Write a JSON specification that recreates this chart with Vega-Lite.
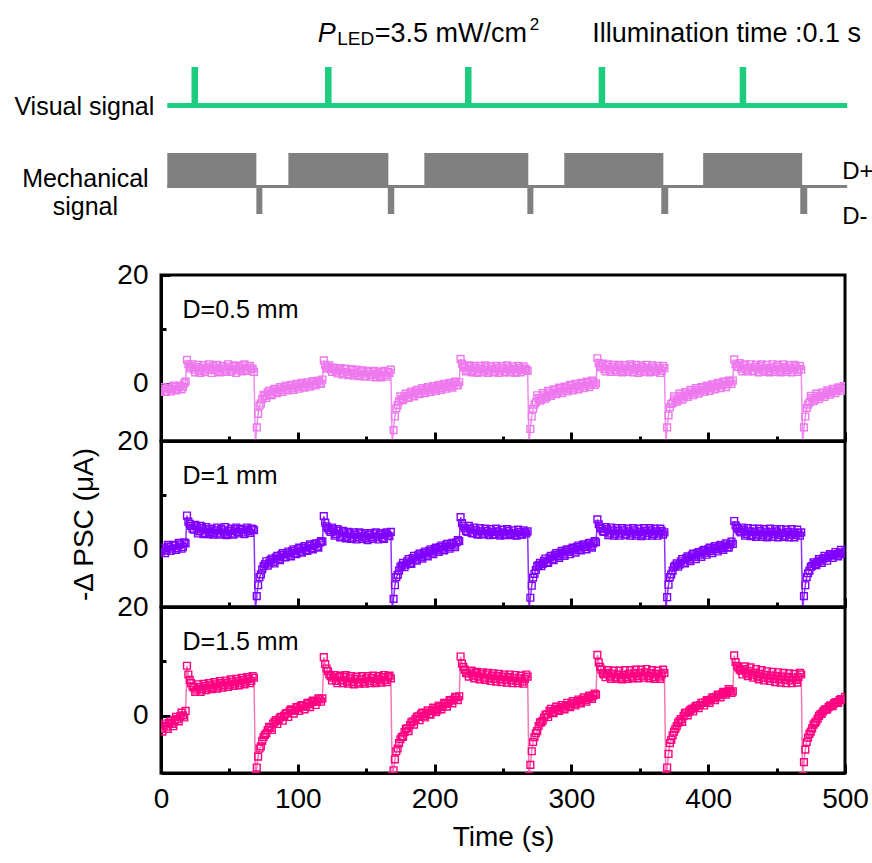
{
  "$schema": "https://vega.github.io/schema/vega-lite/v6.json",
  "background": "white",
  "padding": {"left": 14, "top": 0, "right": 0, "bottom": 0},
  "spacing": 0,
  "bounds": "flush",
  "config": {
    "font": "Liberation Sans",
    "view": {"stroke": "black", "strokeWidth": 3},
    "axis": {
      "domainColor": "black", "domainWidth": 3, "tickColor": "black", "tickWidth": 3,
      "labelFont": "Liberation Sans", "labelFontSize": 28, "labelColor": "black",
      "titleFont": "Liberation Sans", "titleFontSize": 28, "titleFontWeight": "normal", "titleColor": "black",
      "grid": false, "labelFlush": false, "labelOverlap": false
    }
  },
  "datasets": {
    "visual": [
      {"t0": 4.6, "t1": 501.6, "y0": 6.68, "y1": 6.88},
      {"t0": 22.3, "t1": 27.1, "y0": 6.68, "y1": 8.32},
      {"t0": 119.9, "t1": 124.7, "y0": 6.68, "y1": 8.32},
      {"t0": 222.2, "t1": 227.0, "y0": 6.68, "y1": 8.32},
      {"t0": 319.9, "t1": 324.7, "y0": 6.68, "y1": 8.32},
      {"t0": 423.0, "t1": 427.8, "y0": 6.68, "y1": 8.32}
    ],
    "mech": [
      {"t0": 4.6, "t1": 501.6, "y0": 3.48, "y1": 3.6},
      {"t0": 4.6, "t1": 69.7, "y0": 3.48, "y1": 4.88},
      {"t0": 93.1, "t1": 166.2, "y0": 3.48, "y1": 4.88},
      {"t0": 192.5, "t1": 268.5, "y0": 3.48, "y1": 4.88},
      {"t0": 294.8, "t1": 367.2, "y0": 3.48, "y1": 4.88},
      {"t0": 396.3, "t1": 468.7, "y0": 3.48, "y1": 4.88},
      {"t0": 69.7, "t1": 74.1, "y0": 2.44, "y1": 3.6},
      {"t0": 165.8, "t1": 170.5, "y0": 2.44, "y1": 3.6},
      {"t0": 267.8, "t1": 272.2, "y0": 2.44, "y1": 3.6},
      {"t0": 365.7, "t1": 370.8, "y0": 2.44, "y1": 3.6},
      {"t0": 467.3, "t1": 472.4, "y0": 2.44, "y1": 3.6}
    ],
    "psc": [
      {"t":0,"a":-1.3,"b":-0.3,"c":-2.4},{"t":2,"a":-0.9,"b":0.4,"c":-1.8},{"t":4,"a":-1.4,"b":-0.1,"c":-2.0},{"t":6,"a":-0.8,"b":0.6,"c":-1.3},{"t":8,"a":-1.0,"b":0.2,"c":-1.5},{"t":10,"a":-0.5,"b":0.8,"c":-0.8},{"t":12,"a":-0.9,"b":0.3,"c":-0.6},{"t":14,"a":-0.3,"b":1.0,"c":-0.1},{"t":16,"a":-0.6,"b":0.5,"c":0.1},{"t":18,"a":0.4,"b":1.2,"c":0.9},
      {"t":1,"a":-0.6,"b":0.3,"c":-2.9},{"t":3,"a":-1.5,"b":-0.6,"c":-1.4},{"t":5,"a":-0.7,"b":0.9,"c":-2.4},{"t":7,"a":-1.4,"b":-0.2,"c":-1.0},{"t":9,"a":-0.3,"b":0.9,"c":-1.9},{"t":11,"a":-1.2,"b":0.0,"c":-0.2},{"t":13,"a":-0.5,"b":1.3,"c":-1.0},{"t":15,"a":-1.0,"b":0.2,"c":0.6},{"t":17,"a":0.1,"b":1.4,"c":-0.3},
      {"t":19,"a":4.4,"b":6.3,"c":9.2},{"t":20,"a":3.6,"b":5.2,"c":7.6},{"t":22,"a":3.2,"b":4.4,"c":6.0},{"t":24,"a":2.6,"b":3.7,"c":5.2},{"t":26,"a":3.1,"b":4.3,"c":4.8},{"t":28,"a":2.4,"b":3.4,"c":5.3},{"t":30,"a":2.9,"b":4.0,"c":4.9},{"t":32,"a":2.2,"b":3.1,"c":5.5},{"t":34,"a":3.0,"b":3.8,"c":5.1},{"t":36,"a":2.5,"b":3.3,"c":5.6},{"t":38,"a":3.3,"b":2.8,"c":5.2},{"t":40,"a":2.6,"b":3.6,"c":5.8},{"t":42,"a":2.3,"b":3.0,"c":5.4},{"t":44,"a":3.0,"b":3.9,"c":6.0},{"t":46,"a":2.7,"b":3.2,"c":5.6},{"t":48,"a":2.2,"b":2.7,"c":6.1},{"t":50,"a":3.1,"b":3.5,"c":5.7},{"t":52,"a":2.6,"b":3.0,"c":6.3},{"t":54,"a":3.2,"b":3.8,"c":5.9},{"t":56,"a":2.5,"b":3.3,"c":6.4},{"t":58,"a":2.9,"b":3.9,"c":6.0},{"t":60,"a":3.4,"b":3.2,"c":6.6},{"t":62,"a":2.6,"b":3.7,"c":6.2},{"t":64,"a":3.0,"b":3.4,"c":6.8},{"t":66,"a":2.7,"b":3.9,"c":6.4},{"t":68,"a":2.2,"b":3.6,"c":7.0},
      {"t":21,"a":2.9,"b":4.8,"c":6.6},{"t":23,"a":3.6,"b":3.9,"c":5.4},{"t":25,"a":2.1,"b":4.6,"c":4.4},{"t":27,"a":3.5,"b":3.0,"c":5.8},{"t":29,"a":2.0,"b":4.4,"c":4.4},{"t":31,"a":3.4,"b":2.9,"c":5.9},{"t":33,"a":2.6,"b":4.2,"c":4.7},{"t":35,"a":3.6,"b":2.9,"c":6.0},{"t":37,"a":2.0,"b":3.9,"c":4.9},{"t":39,"a":2.9,"b":3.1,"c":6.2},{"t":41,"a":3.5,"b":4.1,"c":5.0},{"t":43,"a":2.1,"b":2.8,"c":6.4},{"t":45,"a":3.3,"b":3.6,"c":5.2},{"t":47,"a":2.4,"b":4.2,"c":6.5},{"t":49,"a":3.6,"b":2.9,"c":5.3},{"t":51,"a":2.2,"b":3.9,"c":6.7},{"t":53,"a":3.4,"b":2.8,"c":5.5},{"t":55,"a":2.0,"b":4.1,"c":6.8},{"t":57,"a":3.3,"b":3.0,"c":5.6},{"t":59,"a":2.3,"b":3.7,"c":7.0},{"t":61,"a":3.6,"b":2.9,"c":5.8},{"t":63,"a":2.4,"b":4.1,"c":7.1},{"t":65,"a":3.3,"b":3.1,"c":6.0},{"t":67,"a":2.8,"b":3.8,"c":7.3},
      {"t":69,"a":-11,"b":-11,"c":-11},{"t":70,"a":-8,"b":-8.5,"c":-9.5},{"t":71,"a":-5.5,"b":-6.5,"c":-7.5},{"t":72,"a":-4,"b":-5,"c":-6},{"t":74,"a":-2.8,"b":-3.6,"c":-4.6},{"t":76,"a":-2.2,"b":-2.6,"c":-3.5},{"t":78,"a":-1.6,"b":-2.9,"c":-2.6},{"t":80,"a":-1.9,"b":-1.9,"c":-2.2},{"t":82,"a":-1.2,"b":-2.2,"c":-1.4},{"t":84,"a":-1.5,"b":-1.4,"c":-0.8},{"t":86,"a":-0.9,"b":-1.7,"c":-0.7},{"t":88,"a":-1.2,"b":-0.9,"c":-0.2},{"t":90,"a":-0.6,"b":-1.3,"c":0.0},{"t":92,"a":-0.9,"b":-0.6,"c":0.5},{"t":94,"a":-0.4,"b":-0.9,"c":0.9},{"t":96,"a":-0.8,"b":-0.2,"c":1.0},{"t":98,"a":-0.3,"b":-0.6,"c":1.0},{"t":100,"a":-0.6,"b":0.1,"c":1.4},{"t":102,"a":-0.1,"b":-0.3,"c":1.8},{"t":104,"a":-0.5,"b":0.4,"c":1.8},{"t":106,"a":0.0,"b":0.0,"c":1.7},{"t":108,"a":-0.3,"b":0.7,"c":2.2},{"t":110,"a":0.3,"b":0.3,"c":2.5},{"t":112,"a":-0.1,"b":1.0,"c":2.6},{"t":114,"a":0.4,"b":0.6,"c":2.6},{"t":116,"a":0.1,"b":1.3,"c":3.0},{"t":118,"a":0.8,"b":1.5,"c":3.2},
      {"t":73,"a":-3.6,"b":-4.5,"c":-5.6},{"t":75,"a":-2.0,"b":-3.0,"c":-3.9},{"t":77,"a":-2.6,"b":-2.1,"c":-3.2},{"t":79,"a":-1.3,"b":-2.5,"c":-2.0},{"t":81,"a":-2.1,"b":-1.6,"c":-2.6},{"t":83,"a":-0.9,"b":-2.5,"c":-1.1},{"t":85,"a":-1.7,"b":-1.1,"c":-1.5},{"t":87,"a":-0.6,"b":-1.9,"c":-0.3},{"t":89,"a":-1.5,"b":-0.6,"c":-0.9},{"t":91,"a":-0.3,"b":-1.4,"c":0.4},{"t":93,"a":-1.2,"b":-0.3,"c":-0.2},{"t":95,"a":-0.2,"b":-1.2,"c":1.2},{"t":97,"a":-1.1,"b":0.1,"c":0.4},{"t":99,"a":0.0,"b":-0.8,"c":1.6},{"t":101,"a":-0.9,"b":0.4,"c":0.9},{"t":103,"a":0.2,"b":-0.5,"c":2.0},{"t":105,"a":-0.7,"b":0.7,"c":1.2},{"t":107,"a":0.3,"b":-0.2,"c":2.4},{"t":109,"a":-0.5,"b":1.0,"c":1.6},{"t":111,"a":0.5,"b":0.1,"c":2.8},{"t":113,"a":-0.3,"b":1.2,"c":2.0},{"t":115,"a":0.6,"b":0.4,"c":3.2},{"t":117,"a":0.0,"b":1.6,"c":2.6},
      {"t":119,"a":4.3,"b":6.2,"c":10.8},{"t":120,"a":3.5,"b":5.0,"c":9.5},{"t":122,"a":3.1,"b":4.0,"c":8.2},{"t":124,"a":2.7,"b":3.3,"c":7.3},{"t":126,"a":3.0,"b":3.8,"c":7.0},{"t":128,"a":2.3,"b":2.9,"c":6.4},{"t":130,"a":2.6,"b":3.5,"c":7.1},{"t":132,"a":2.0,"b":2.6,"c":6.5},{"t":134,"a":2.7,"b":3.2,"c":7.2},{"t":136,"a":2.2,"b":2.4,"c":6.3},{"t":138,"a":1.8,"b":3.0,"c":6.9},{"t":140,"a":2.5,"b":2.2,"c":6.2},{"t":142,"a":2.0,"b":2.8,"c":6.8},{"t":144,"a":1.6,"b":2.3,"c":6.1},{"t":146,"a":2.3,"b":3.0,"c":6.7},{"t":148,"a":1.9,"b":2.5,"c":6.2},{"t":150,"a":1.5,"b":2.1,"c":6.9},{"t":152,"a":2.2,"b":2.8,"c":6.4},{"t":154,"a":1.7,"b":2.3,"c":7.0},{"t":156,"a":2.4,"b":3.0,"c":6.3},{"t":158,"a":1.8,"b":2.4,"c":6.8},{"t":160,"a":1.4,"b":2.8,"c":6.5},{"t":162,"a":2.1,"b":2.2,"c":7.1},{"t":164,"a":1.6,"b":2.9,"c":6.6},{"t":166,"a":2.2,"b":2.6,"c":7.2},{"t":168,"a":2.6,"b":3.3,"c":6.9},
      {"t":121,"a":2.8,"b":4.3,"c":8.7},{"t":123,"a":3.4,"b":3.6,"c":7.6},{"t":125,"a":2.2,"b":4.1,"c":6.5},{"t":127,"a":2.9,"b":2.6,"c":7.5},{"t":129,"a":1.9,"b":3.8,"c":6.0},{"t":131,"a":2.9,"b":2.3,"c":7.4},{"t":133,"a":1.7,"b":3.5,"c":6.0},{"t":135,"a":2.8,"b":2.1,"c":7.5},{"t":137,"a":1.6,"b":3.3,"c":5.9},{"t":139,"a":2.7,"b":2.0,"c":7.3},{"t":141,"a":1.5,"b":3.2,"c":5.8},{"t":143,"a":2.6,"b":1.9,"c":7.2},{"t":145,"a":1.4,"b":3.2,"c":5.9},{"t":147,"a":2.5,"b":2.0,"c":7.3},{"t":149,"a":1.3,"b":3.1,"c":5.9},{"t":151,"a":2.4,"b":1.8,"c":7.3},{"t":153,"a":1.3,"b":3.1,"c":6.0},{"t":155,"a":2.3,"b":2.0,"c":7.4},{"t":157,"a":1.2,"b":3.2,"c":6.0},{"t":159,"a":2.2,"b":1.9,"c":7.3},{"t":161,"a":1.2,"b":3.1,"c":6.1},{"t":163,"a":2.4,"b":2.0,"c":7.5},{"t":165,"a":1.3,"b":3.2,"c":6.2},{"t":167,"a":2.0,"b":2.5,"c":7.4},
      {"t":169,"a":-11,"b":-11,"c":-11},{"t":170,"a":-8.5,"b":-9,"c":-10},{"t":171,"a":-6,"b":-6.5,"c":-8},{"t":172,"a":-4.5,"b":-5,"c":-6.5},{"t":174,"a":-3.2,"b":-3.8,"c":-5},{"t":176,"a":-2.8,"b":-2.9,"c":-3.9},{"t":178,"a":-2.2,"b":-3.2,"c":-3.0},{"t":180,"a":-2.5,"b":-2.1,"c":-2.3},{"t":182,"a":-1.7,"b":-2.4,"c":-1.7},{"t":184,"a":-2.0,"b":-1.5,"c":-1.0},{"t":186,"a":-1.4,"b":-1.8,"c":-0.6},{"t":188,"a":-1.7,"b":-1.0,"c":-0.1},{"t":190,"a":-1.1,"b":-1.3,"c":0.3},{"t":192,"a":-1.4,"b":-0.6,"c":0.0},{"t":194,"a":-0.9,"b":-0.9,"c":0.6},{"t":196,"a":-1.2,"b":-0.2,"c":0.3},{"t":198,"a":-0.7,"b":-0.5,"c":0.9},{"t":200,"a":-1.0,"b":0.2,"c":1.2},{"t":202,"a":-0.5,"b":-0.1,"c":1.0},{"t":204,"a":-0.8,"b":0.5,"c":1.6},{"t":206,"a":-0.3,"b":0.2,"c":1.8},{"t":208,"a":-0.6,"b":0.8,"c":2.2},{"t":210,"a":-0.1,"b":0.5,"c":2.4},{"t":212,"a":-0.4,"b":1.1,"c":2.8},{"t":214,"a":0.1,"b":0.8,"c":3.0},{"t":216,"a":-0.2,"b":1.4,"c":3.4},{"t":218,"a":0.3,"b":1.6,"c":3.6},
      {"t":173,"a":-3.9,"b":-4.6,"c":-6.0},{"t":175,"a":-2.3,"b":-3.1,"c":-4.3},{"t":177,"a":-3.0,"b":-2.4,"c":-3.8},{"t":179,"a":-1.8,"b":-2.7,"c":-2.4},{"t":181,"a":-2.6,"b":-1.7,"c":-2.8},{"t":183,"a":-1.4,"b":-2.6,"c":-1.2},{"t":185,"a":-2.3,"b":-1.1,"c":-1.6},{"t":187,"a":-1.1,"b":-2.0,"c":-0.2},{"t":189,"a":-1.9,"b":-0.7,"c":-0.8},{"t":191,"a":-0.8,"b":-1.6,"c":0.6},{"t":193,"a":-1.7,"b":-0.3,"c":-0.3},{"t":195,"a":-0.6,"b":-1.2,"c":1.0},{"t":197,"a":-1.5,"b":0.1,"c":0.2},{"t":199,"a":-0.4,"b":-0.8,"c":1.5},{"t":201,"a":-1.3,"b":0.4,"c":0.7},{"t":203,"a":-0.2,"b":-0.4,"c":1.9},{"t":205,"a":-1.1,"b":0.8,"c":1.2},{"t":207,"a":0.0,"b":-0.1,"c":2.4},{"t":209,"a":-0.9,"b":1.1,"c":1.7},{"t":211,"a":0.2,"b":0.2,"c":2.9},{"t":213,"a":-0.7,"b":1.3,"c":2.3},{"t":215,"a":0.4,"b":0.5,"c":3.5},{"t":217,"a":-0.3,"b":1.8,"c":2.9},
      {"t":219,"a":4.6,"b":6.0,"c":10.9},{"t":220,"a":3.7,"b":4.9,"c":9.6},{"t":222,"a":3.0,"b":4.0,"c":8.5},{"t":224,"a":2.6,"b":3.3,"c":7.8},{"t":226,"a":3.2,"b":3.9,"c":8.2},{"t":228,"a":2.4,"b":3.0,"c":7.4},{"t":230,"a":2.9,"b":3.6,"c":7.9},{"t":232,"a":2.2,"b":2.8,"c":7.2},{"t":234,"a":2.8,"b":3.4,"c":7.7},{"t":236,"a":2.5,"b":2.9,"c":7.0},{"t":238,"a":3.1,"b":3.5,"c":7.6},{"t":240,"a":2.3,"b":2.7,"c":6.9},{"t":242,"a":2.7,"b":3.3,"c":7.4},{"t":244,"a":2.1,"b":2.8,"c":6.8},{"t":246,"a":2.9,"b":3.4,"c":7.3},{"t":248,"a":2.4,"b":2.6,"c":6.7},{"t":250,"a":2.8,"b":3.2,"c":7.2},{"t":252,"a":2.2,"b":2.8,"c":6.6},{"t":254,"a":3.0,"b":3.5,"c":7.1},{"t":256,"a":2.5,"b":2.7,"c":6.5},{"t":258,"a":2.7,"b":3.1,"c":7.0},{"t":260,"a":2.2,"b":2.6,"c":6.4},{"t":262,"a":2.9,"b":3.3,"c":6.9},{"t":264,"a":2.5,"b":2.8,"c":6.3},{"t":266,"a":2.8,"b":3.2,"c":6.8},{"t":268,"a":2.4,"b":3.4,"c":7.2},
      {"t":221,"a":3.2,"b":4.4,"c":9.0},{"t":223,"a":2.3,"b":3.5,"c":7.9},{"t":225,"a":3.4,"b":4.4,"c":7.2},{"t":227,"a":2.1,"b":3.1,"c":8.3},{"t":229,"a":3.3,"b":4.1,"c":6.9},{"t":231,"a":2.0,"b":2.9,"c":8.1},{"t":233,"a":3.3,"b":4.0,"c":6.7},{"t":235,"a":2.1,"b":2.9,"c":8.0},{"t":237,"a":3.4,"b":3.9,"c":6.6},{"t":239,"a":2.0,"b":3.0,"c":7.9},{"t":241,"a":3.2,"b":3.8,"c":6.4},{"t":243,"a":2.2,"b":2.8,"c":7.8},{"t":245,"a":3.3,"b":3.9,"c":6.3},{"t":247,"a":2.0,"b":2.9,"c":7.7},{"t":249,"a":3.2,"b":3.7,"c":6.2},{"t":251,"a":2.1,"b":2.7,"c":7.6},{"t":253,"a":3.4,"b":3.8,"c":6.1},{"t":255,"a":2.1,"b":2.9,"c":7.6},{"t":257,"a":3.2,"b":3.6,"c":6.0},{"t":259,"a":2.0,"b":2.7,"c":7.5},{"t":261,"a":3.3,"b":3.7,"c":6.0},{"t":263,"a":2.1,"b":2.8,"c":7.4},{"t":265,"a":3.2,"b":3.6,"c":5.9},{"t":267,"a":2.6,"b":3.0,"c":7.6},
      {"t":269,"a":-11,"b":-11,"c":-11},{"t":270,"a":-8.3,"b":-8.8,"c":-9},{"t":271,"a":-6,"b":-6.6,"c":-6.5},{"t":272,"a":-4.6,"b":-5.1,"c":-4.8},{"t":274,"a":-3.4,"b":-3.7,"c":-3.2},{"t":276,"a":-2.6,"b":-2.8,"c":-1.9},{"t":278,"a":-2.9,"b":-3.0,"c":-1.2},{"t":280,"a":-2.1,"b":-2.0,"c":-0.3},{"t":282,"a":-2.4,"b":-2.3,"c":0.3},{"t":284,"a":-1.6,"b":-1.4,"c":0.9},{"t":286,"a":-1.9,"b":-1.7,"c":0.7},{"t":288,"a":-1.2,"b":-0.9,"c":1.3},{"t":290,"a":-1.6,"b":-1.2,"c":1.1},{"t":292,"a":-0.9,"b":-0.5,"c":1.6},{"t":294,"a":-1.3,"b":-0.8,"c":1.5},{"t":296,"a":-0.7,"b":-0.1,"c":2.0},{"t":298,"a":-1.0,"b":-0.4,"c":1.8},{"t":300,"a":-0.4,"b":0.2,"c":2.3},{"t":302,"a":-0.8,"b":-0.1,"c":2.2},{"t":304,"a":-0.3,"b":0.5,"c":2.7},{"t":306,"a":-0.6,"b":0.2,"c":2.6},{"t":308,"a":0.0,"b":0.8,"c":3.0},{"t":310,"a":-0.4,"b":0.5,"c":2.9},{"t":312,"a":0.2,"b":1.0,"c":3.3},{"t":314,"a":-0.2,"b":0.7,"c":3.4},{"t":316,"a":0.3,"b":1.2,"c":3.7},{"t":318,"a":0.1,"b":1.4,"c":3.9},
      {"t":273,"a":-3.8,"b":-4.4,"c":-3.9},{"t":275,"a":-2.1,"b":-3.0,"c":-2.8},{"t":277,"a":-3.1,"b":-2.4,"c":-1.2},{"t":279,"a":-1.7,"b":-2.6,"c":-0.9},{"t":281,"a":-2.7,"b":-1.6,"c":0.2},{"t":283,"a":-1.3,"b":-2.4,"c":-0.2},{"t":285,"a":-2.2,"b":-1.1,"c":1.3},{"t":287,"a":-1.0,"b":-1.9,"c":0.5},{"t":289,"a":-1.9,"b":-0.6,"c":1.7},{"t":291,"a":-0.7,"b":-1.5,"c":0.9},{"t":293,"a":-1.7,"b":-0.2,"c":2.0},{"t":295,"a":-0.5,"b":-1.1,"c":1.2},{"t":297,"a":-1.4,"b":0.1,"c":2.4},{"t":299,"a":-0.2,"b":-0.8,"c":1.6},{"t":301,"a":-1.2,"b":0.4,"c":2.7},{"t":303,"a":0.0,"b":-0.5,"c":1.9},{"t":305,"a":-1.0,"b":0.8,"c":3.0},{"t":307,"a":0.2,"b":-0.1,"c":2.3},{"t":309,"a":-0.8,"b":1.0,"c":3.4},{"t":311,"a":0.4,"b":0.1,"c":2.6},{"t":313,"a":-0.6,"b":1.3,"c":3.7},{"t":315,"a":0.6,"b":0.4,"c":3.1},{"t":317,"a":-0.2,"b":1.6,"c":4.1},
      {"t":319,"a":4.7,"b":5.6,"c":11.2},{"t":320,"a":3.8,"b":4.7,"c":9.8},{"t":322,"a":3.3,"b":3.9,"c":8.5},{"t":324,"a":2.7,"b":3.3,"c":7.6},{"t":326,"a":3.4,"b":3.8,"c":7.9},{"t":328,"a":2.6,"b":3.0,"c":7.2},{"t":330,"a":3.1,"b":3.6,"c":7.7},{"t":332,"a":2.5,"b":2.9,"c":7.1},{"t":334,"a":3.2,"b":3.5,"c":7.6},{"t":336,"a":2.8,"b":3.0,"c":7.0},{"t":338,"a":2.4,"b":3.6,"c":7.5},{"t":340,"a":3.0,"b":2.8,"c":7.1},{"t":342,"a":2.6,"b":3.4,"c":7.7},{"t":344,"a":3.3,"b":3.0,"c":7.2},{"t":346,"a":2.5,"b":3.6,"c":7.8},{"t":348,"a":2.9,"b":2.9,"c":7.3},{"t":350,"a":2.3,"b":3.3,"c":7.9},{"t":352,"a":3.1,"b":2.8,"c":7.4},{"t":354,"a":2.6,"b":3.5,"c":8.0},{"t":356,"a":2.9,"b":3.1,"c":7.3},{"t":358,"a":2.4,"b":3.6,"c":7.8},{"t":360,"a":3.0,"b":2.9,"c":7.1},{"t":362,"a":2.5,"b":3.4,"c":7.7},{"t":364,"a":2.8,"b":3.0,"c":7.2},{"t":366,"a":2.4,"b":3.5,"c":7.6},{"t":368,"a":2.9,"b":3.2,"c":7.9},
      {"t":321,"a":3.0,"b":4.1,"c":9.0},{"t":323,"a":3.7,"b":3.4,"c":7.8},{"t":325,"a":2.3,"b":4.2,"c":7.1},{"t":327,"a":3.6,"b":2.7,"c":8.4},{"t":329,"a":2.2,"b":4.1,"c":6.8},{"t":331,"a":3.5,"b":2.6,"c":8.3},{"t":333,"a":2.2,"b":4.0,"c":6.8},{"t":335,"a":3.5,"b":2.6,"c":8.3},{"t":337,"a":2.1,"b":4.0,"c":6.7},{"t":339,"a":3.4,"b":2.7,"c":8.4},{"t":341,"a":2.2,"b":3.9,"c":6.8},{"t":343,"a":3.6,"b":2.6,"c":8.4},{"t":345,"a":2.1,"b":4.0,"c":6.9},{"t":347,"a":3.5,"b":2.6,"c":8.5},{"t":349,"a":2.0,"b":3.9,"c":6.9},{"t":351,"a":3.4,"b":2.5,"c":8.5},{"t":353,"a":2.2,"b":4.0,"c":7.0},{"t":355,"a":3.5,"b":2.6,"c":8.6},{"t":357,"a":2.1,"b":4.0,"c":6.9},{"t":359,"a":3.4,"b":2.6,"c":8.4},{"t":361,"a":2.2,"b":3.9,"c":6.8},{"t":363,"a":3.3,"b":2.6,"c":8.3},{"t":365,"a":2.0,"b":3.9,"c":6.8},{"t":367,"a":3.3,"b":2.8,"c":8.5},
      {"t":369,"a":-11,"b":-11,"c":-11},{"t":370,"a":-8,"b":-8.7,"c":-9.5},{"t":371,"a":-5.8,"b":-6.4,"c":-7},{"t":372,"a":-4.3,"b":-5.0,"c":-5},{"t":374,"a":-3.5,"b":-3.8,"c":-3.6},{"t":376,"a":-2.7,"b":-2.9,"c":-2.4},{"t":378,"a":-3.0,"b":-3.1,"c":-1.3},{"t":380,"a":-2.2,"b":-2.1,"c":-0.6},{"t":382,"a":-2.5,"b":-2.4,"c":0.0},{"t":384,"a":-1.8,"b":-1.5,"c":0.6},{"t":386,"a":-2.0,"b":-1.8,"c":0.8},{"t":388,"a":-1.4,"b":-1.0,"c":1.3},{"t":390,"a":-1.7,"b":-1.3,"c":1.5},{"t":392,"a":-1.1,"b":-0.6,"c":1.9},{"t":394,"a":-1.4,"b":-0.9,"c":2.0},{"t":396,"a":-0.8,"b":-0.2,"c":2.4},{"t":398,"a":-1.1,"b":-0.5,"c":2.5},{"t":400,"a":-0.5,"b":0.1,"c":2.8},{"t":402,"a":-0.8,"b":-0.2,"c":3.0},{"t":404,"a":-0.3,"b":0.4,"c":3.3},{"t":406,"a":-0.6,"b":0.1,"c":3.5},{"t":408,"a":0.0,"b":0.6,"c":3.8},{"t":410,"a":-0.3,"b":0.3,"c":4.0},{"t":412,"a":0.3,"b":0.8,"c":4.2},{"t":414,"a":-0.1,"b":0.5,"c":4.4},{"t":416,"a":0.4,"b":1.0,"c":4.6},{"t":418,"a":0.6,"b":1.1,"c":4.5},
      {"t":373,"a":-3.7,"b":-4.5,"c":-4.4},{"t":375,"a":-2.3,"b":-3.1,"c":-2.9},{"t":377,"a":-3.3,"b":-2.5,"c":-1.9},{"t":379,"a":-1.8,"b":-2.7,"c":-0.9},{"t":381,"a":-2.9,"b":-1.7,"c":-1.1},{"t":383,"a":-1.5,"b":-2.5,"c":0.5},{"t":385,"a":-2.4,"b":-1.2,"c":0.1},{"t":387,"a":-1.1,"b":-2.1,"c":1.1},{"t":389,"a":-2.1,"b":-0.7,"c":0.8},{"t":391,"a":-0.8,"b":-1.7,"c":1.8},{"t":393,"a":-1.8,"b":-0.4,"c":1.4},{"t":395,"a":-0.6,"b":-1.3,"c":2.4},{"t":397,"a":-1.5,"b":0.0,"c":1.9},{"t":399,"a":-0.3,"b":-0.9,"c":2.9},{"t":401,"a":-1.3,"b":0.4,"c":2.4},{"t":403,"a":-0.1,"b":-0.6,"c":3.4},{"t":405,"a":-1.0,"b":0.7,"c":2.9},{"t":407,"a":0.2,"b":-0.3,"c":3.9},{"t":409,"a":-0.8,"b":0.9,"c":3.4},{"t":411,"a":0.4,"b":0.0,"c":4.4},{"t":413,"a":-0.6,"b":1.2,"c":3.9},{"t":415,"a":0.6,"b":0.4,"c":4.9},{"t":417,"a":0.0,"b":1.5,"c":4.2},
      {"t":419,"a":4.5,"b":5.3,"c":11.1},{"t":420,"a":3.6,"b":4.5,"c":9.9},{"t":422,"a":3.2,"b":3.8,"c":8.9},{"t":424,"a":2.8,"b":3.2,"c":8.3},{"t":426,"a":3.4,"b":3.7,"c":8.6},{"t":428,"a":2.6,"b":2.9,"c":7.8},{"t":430,"a":3.0,"b":3.4,"c":8.2},{"t":432,"a":2.4,"b":2.7,"c":7.5},{"t":434,"a":3.1,"b":3.3,"c":7.9},{"t":436,"a":2.7,"b":2.8,"c":7.2},{"t":438,"a":3.3,"b":3.5,"c":7.7},{"t":440,"a":2.5,"b":2.7,"c":7.0},{"t":442,"a":2.9,"b":3.2,"c":7.5},{"t":444,"a":2.3,"b":2.6,"c":6.9},{"t":446,"a":3.0,"b":3.3,"c":7.4},{"t":448,"a":2.6,"b":2.9,"c":6.8},{"t":450,"a":3.2,"b":3.4,"c":7.3},{"t":452,"a":2.4,"b":2.7,"c":6.7},{"t":454,"a":2.8,"b":3.1,"c":7.2},{"t":456,"a":3.1,"b":2.6,"c":6.6},{"t":458,"a":2.5,"b":3.3,"c":7.1},{"t":460,"a":2.9,"b":2.8,"c":6.5},{"t":462,"a":2.6,"b":3.2,"c":7.0},{"t":464,"a":3.2,"b":2.7,"c":6.6},{"t":466,"a":2.7,"b":3.1,"c":7.1},{"t":468,"a":2.6,"b":3.2,"c":7.6},
      {"t":421,"a":3.1,"b":4.1,"c":9.2},{"t":423,"a":3.8,"b":3.4,"c":8.5},{"t":425,"a":2.3,"b":4.1,"c":7.6},{"t":427,"a":3.6,"b":2.6,"c":9.1},{"t":429,"a":2.3,"b":4.0,"c":7.3},{"t":431,"a":3.6,"b":2.5,"c":8.9},{"t":433,"a":2.3,"b":3.9,"c":7.0},{"t":435,"a":3.5,"b":2.4,"c":8.6},{"t":437,"a":2.1,"b":3.9,"c":6.7},{"t":439,"a":3.6,"b":2.4,"c":8.4},{"t":441,"a":2.2,"b":3.8,"c":6.5},{"t":443,"a":3.5,"b":2.3,"c":8.2},{"t":445,"a":2.1,"b":3.9,"c":6.4},{"t":447,"a":3.6,"b":2.4,"c":8.1},{"t":449,"a":2.2,"b":3.8,"c":6.2},{"t":451,"a":3.5,"b":2.3,"c":8.0},{"t":453,"a":2.1,"b":3.8,"c":6.1},{"t":455,"a":3.6,"b":2.4,"c":7.9},{"t":457,"a":2.2,"b":3.7,"c":6.0},{"t":459,"a":3.4,"b":2.3,"c":7.8},{"t":461,"a":2.1,"b":3.8,"c":6.0},{"t":463,"a":3.5,"b":2.3,"c":7.7},{"t":465,"a":2.2,"b":3.7,"c":6.1},{"t":467,"a":3.3,"b":2.6,"c":7.9},
      {"t":469,"a":-11,"b":-11,"c":-11},{"t":470,"a":-8,"b":-8.5,"c":-8.5},{"t":471,"a":-6,"b":-6.5,"c":-6.2},{"t":472,"a":-4.4,"b":-5,"c":-4.8},{"t":474,"a":-3.4,"b":-3.8,"c":-3.3},{"t":476,"a":-2.6,"b":-3.0,"c":-2.3},{"t":478,"a":-2.9,"b":-2.6,"c":-1.3},{"t":480,"a":-2.2,"b":-2.2,"c":-0.5},{"t":482,"a":-2.4,"b":-2.0,"c":0.3},{"t":484,"a":-1.7,"b":-1.6,"c":0.8},{"t":486,"a":-2.0,"b":-1.5,"c":1.2},{"t":488,"a":-1.4,"b":-1.2,"c":1.6},{"t":490,"a":-1.6,"b":-1.0,"c":1.9},{"t":492,"a":-1.0,"b":-0.8,"c":2.3},{"t":494,"a":-1.3,"b":-0.9,"c":2.5},{"t":496,"a":-0.7,"b":-0.5,"c":2.9},{"t":498,"a":-0.9,"b":-0.6,"c":3.1},{"t":500,"a":-0.6,"b":-0.3,"c":3.5},
      {"t":473,"a":-3.8,"b":-4.3,"c":-4.0},{"t":475,"a":-2.2,"b":-3.1,"c":-2.9},{"t":477,"a":-3.2,"b":-2.3,"c":-1.6},{"t":479,"a":-1.8,"b":-2.8,"c":-1.0},{"t":481,"a":-2.8,"b":-1.7,"c":0.0},{"t":483,"a":-1.6,"b":-2.4,"c":0.4},{"t":485,"a":-2.4,"b":-1.1,"c":1.1},{"t":487,"a":-1.2,"b":-2.0,"c":1.2},{"t":489,"a":-2.0,"b":-0.8,"c":1.9},{"t":491,"a":-0.9,"b":-1.5,"c":1.8},{"t":493,"a":-1.7,"b":-0.4,"c":2.5},{"t":495,"a":-0.7,"b":-1.2,"c":2.4},{"t":497,"a":-1.3,"b":0.0,"c":3.1},{"t":499,"a":-0.4,"b":-0.8,"c":3.0}
    ]
  },
  "vconcat": [
    {
      "width": 684, "height": 275,
      "view": {"stroke": null},
      "encoding": {
        "x": {"field": "t0", "type": "quantitative", "scale": {"domain": [0, 500], "nice": false, "zero": false}, "axis": null},
        "y": {"field": "y0", "type": "quantitative", "scale": {"domain": [0, 11], "nice": false, "zero": false}, "axis": null}
      },
      "layer": [
        {"data": {"name": "visual"}, "mark": {"type": "rect", "color": "#1ECC80"}, "encoding": {"x2": {"field": "t1"}, "y2": {"field": "y1"}}},
        {"data": {"name": "mech"}, "mark": {"type": "rect", "color": "#808080"}, "encoding": {"x2": {"field": "t1"}, "y2": {"field": "y1"}}},
        {"data": {"values": [{"t0": 156.2, "y0": 9.66, "s": "=3.5 mW/cm"}, {"t0": 315.3, "y0": 9.66, "s": "Illumination time :0.1 s"}]},
         "mark": {"type": "text", "align": "left", "fontSize": 27, "color": "black"}, "encoding": {"text": {"field": "s"}}},
        {"data": {"values": [{"t0": 114.5, "y0": 9.66, "s": "P"}]},
         "mark": {"type": "text", "align": "left", "fontSize": 27, "fontStyle": "italic", "color": "black"}, "encoding": {"text": {"field": "s"}}},
        {"data": {"values": [{"t0": 128.8, "y0": 9.44, "s": "LED"}]},
         "mark": {"type": "text", "align": "left", "fontSize": 19, "color": "black"}, "encoding": {"text": {"field": "s"}}},
        {"data": {"values": [{"t0": 269.5, "y0": 10.02, "s": "2"}]},
         "mark": {"type": "text", "align": "left", "fontSize": 17, "color": "black"}, "encoding": {"text": {"field": "s"}}},
        {"data": {"values": [{"t0": -4.9, "y0": 6.72, "s": "Visual signal"}]},
         "mark": {"type": "text", "align": "right", "fontSize": 25, "color": "black"}, "encoding": {"text": {"field": "s"}}},
        {"data": {"values": [{"t0": -55.3, "y0": 3.84, "s": "Mechanical"}, {"t0": -55.3, "y0": 2.72, "s": "signal"}]},
         "mark": {"type": "text", "align": "center", "fontSize": 25, "color": "black"}, "encoding": {"text": {"field": "s"}}},
        {"data": {"values": [{"t0": 498, "y0": 4.12, "s": "D+"}, {"t0": 498, "y0": 2.32, "s": "D-"}]},
         "mark": {"type": "text", "align": "left", "fontSize": 24, "color": "black"}, "encoding": {"text": {"field": "s"}}}
      ]
    },
    {
      "width": 684, "height": 166,
      "data": {"name": "psc"},
      "encoding": {
        "x": {"field": "t", "type": "quantitative", "scale": {"domain": [0, 500], "nice": false, "zero": false},
              "axis": {"values": [0,50,100,150,200,250,300,350,400,450,500], "labels": false, "title": null,
                       "tickSize": {"condition": {"test": "datum.value % 100 === 0", "value": -9}, "value": -5}}},
        "y": {"field": "a", "type": "quantitative", "scale": {"domain": [-10.5, 20], "nice": false, "zero": false},
              "axis": {"values": [0, 10, 20], "labelExpr": "datum.value === 10 ? '' : datum.label", "labelPadding": 22, "title": null,
                       "tickSize": {"condition": {"test": "datum.value % 20 === 0", "value": -9}, "value": -5}}}
      },
      "layer": [
        {"mark": {"type": "line", "color": "#F08CF0", "strokeWidth": 1.5, "clip": true}},
        {"mark": {"type": "point", "shape": "square", "filled": false, "color": "#EE78EE", "size": 46, "strokeWidth": 1.4, "opacity": 1, "clip": true}},
        {"data": {"values": [{"t": 15.7, "a": 13.5, "s": "D=0.5 mm"}]}, "mark": {"type": "text", "align": "left", "fontSize": 25, "color": "black"}, "encoding": {"text": {"field": "s"}}}
      ]
    },
    {
      "width": 684, "height": 166,
      "data": {"name": "psc"},
      "encoding": {
        "x": {"field": "t", "type": "quantitative", "scale": {"domain": [0, 500], "nice": false, "zero": false},
              "axis": {"values": [0,50,100,150,200,250,300,350,400,450,500], "labels": false, "title": null,
                       "tickSize": {"condition": {"test": "datum.value % 100 === 0", "value": -9}, "value": -5}}},
        "y": {"field": "b", "type": "quantitative", "scale": {"domain": [-10.5, 20], "nice": false, "zero": false},
              "axis": {"values": [0, 10, 20], "labelExpr": "datum.value === 10 ? '' : datum.label", "labelPadding": 22, "title": "-Δ PSC (μA)", "titlePadding": 18,
                       "tickSize": {"condition": {"test": "datum.value % 20 === 0", "value": -9}, "value": -5}}}
      },
      "layer": [
        {"mark": {"type": "line", "color": "#9030FF", "strokeWidth": 1.5, "clip": true}},
        {"mark": {"type": "point", "shape": "square", "filled": false, "color": "#8000FF", "size": 46, "strokeWidth": 1.4, "opacity": 1, "clip": true}},
        {"data": {"values": [{"t": 15.7, "b": 13.5, "s": "D=1 mm"}]}, "mark": {"type": "text", "align": "left", "fontSize": 25, "color": "black"}, "encoding": {"text": {"field": "s"}}}
      ]
    },
    {
      "width": 684, "height": 166,
      "data": {"name": "psc"},
      "encoding": {
        "x": {"field": "t", "type": "quantitative", "scale": {"domain": [0, 500], "nice": false, "zero": false},
              "axis": {"values": [0,50,100,150,200,250,300,350,400,450,500], "labelExpr": "datum.value % 100 === 0 ? datum.label : ''", "labelPadding": 21, "title": "Time (s)", "titlePadding": 6,
                       "tickSize": {"condition": {"test": "datum.value % 100 === 0", "value": -9}, "value": -5}}},
        "y": {"field": "c", "type": "quantitative", "scale": {"domain": [-10.5, 20], "nice": false, "zero": false},
              "axis": {"values": [0, 10, 20], "labelExpr": "datum.value === 10 ? '' : datum.label", "labelPadding": 22, "title": null,
                       "tickSize": {"condition": {"test": "datum.value % 20 === 0", "value": -9}, "value": -5}}}
      },
      "layer": [
        {"mark": {"type": "line", "color": "#F27AB2", "strokeWidth": 1.5, "clip": true}},
        {"mark": {"type": "point", "shape": "square", "filled": false, "color": "#FF0080", "size": 46, "strokeWidth": 1.4, "opacity": 1, "clip": true}},
        {"data": {"values": [{"t": 15.7, "c": 13.5, "s": "D=1.5 mm"}]}, "mark": {"type": "text", "align": "left", "fontSize": 25, "color": "black"}, "encoding": {"text": {"field": "s"}}}
      ]
    }
  ]
}
